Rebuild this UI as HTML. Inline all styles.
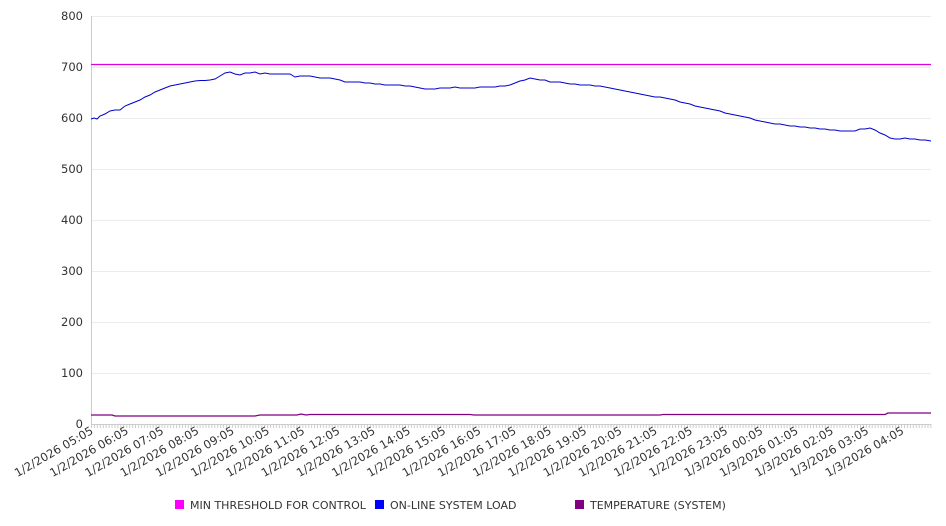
<!DOCTYPE html>
<html><head><meta charset="utf-8"><style>
html,body{margin:0;padding:0;background:#fff;}
svg{display:block;font-family:"DejaVu Sans","Liberation Sans",sans-serif;}
</style></head><body>
<svg width="946" height="526" xmlns="http://www.w3.org/2000/svg">
<defs>
<pattern id="tk" x="91" y="424" width="2.935" height="5" patternUnits="userSpaceOnUse">
<rect x="0" y="0" width="1" height="4" fill="#ccc"/>
</pattern>
</defs>
<g stroke="#ececec" stroke-width="1">
<line x1="91" y1="16.5" x2="931" y2="16.5"/><line x1="91" y1="67.5" x2="931" y2="67.5"/>
<line x1="91" y1="118.5" x2="931" y2="118.5"/><line x1="91" y1="169.5" x2="931" y2="169.5"/>
<line x1="91" y1="220.5" x2="931" y2="220.5"/><line x1="91" y1="271.5" x2="931" y2="271.5"/>
<line x1="91" y1="322.5" x2="931" y2="322.5"/><line x1="91" y1="373.5" x2="931" y2="373.5"/>
</g>
<line x1="91.5" y1="16" x2="91.5" y2="424" stroke="#ccc"/>
<line x1="91" y1="424.5" x2="931" y2="424.5" stroke="#ccc"/>
<rect x="91" y="424" width="841" height="4" fill="url(#tk)"/>
<g font-size="11.5" fill="#333" text-anchor="end">
<text x="83" y="20">800</text><text x="83" y="71">700</text><text x="83" y="122">600</text>
<text x="83" y="173">500</text><text x="83" y="224">400</text><text x="83" y="275">300</text>
<text x="83" y="326">200</text><text x="83" y="377">100</text><text x="83" y="428">0</text>
</g>
<g font-size="11.5" fill="#333" text-anchor="end">
<text transform="translate(94,433) rotate(-30)">1/2/2026 05:05</text>
<text transform="translate(129.25,433) rotate(-30)">1/2/2026 06:05</text>
<text transform="translate(164.5,433) rotate(-30)">1/2/2026 07:05</text>
<text transform="translate(199.75,433) rotate(-30)">1/2/2026 08:05</text>
<text transform="translate(235,433) rotate(-30)">1/2/2026 09:05</text>
<text transform="translate(270.25,433) rotate(-30)">1/2/2026 10:05</text>
<text transform="translate(305.5,433) rotate(-30)">1/2/2026 11:05</text>
<text transform="translate(340.75,433) rotate(-30)">1/2/2026 12:05</text>
<text transform="translate(376,433) rotate(-30)">1/2/2026 13:05</text>
<text transform="translate(411.25,433) rotate(-30)">1/2/2026 14:05</text>
<text transform="translate(446.5,433) rotate(-30)">1/2/2026 15:05</text>
<text transform="translate(481.75,433) rotate(-30)">1/2/2026 16:05</text>
<text transform="translate(517,433) rotate(-30)">1/2/2026 17:05</text>
<text transform="translate(552.25,433) rotate(-30)">1/2/2026 18:05</text>
<text transform="translate(587.5,433) rotate(-30)">1/2/2026 19:05</text>
<text transform="translate(622.75,433) rotate(-30)">1/2/2026 20:05</text>
<text transform="translate(658,433) rotate(-30)">1/2/2026 21:05</text>
<text transform="translate(693.25,433) rotate(-30)">1/2/2026 22:05</text>
<text transform="translate(728.5,433) rotate(-30)">1/2/2026 23:05</text>
<text transform="translate(763.75,433) rotate(-30)">1/3/2026 00:05</text>
<text transform="translate(799,433) rotate(-30)">1/3/2026 01:05</text>
<text transform="translate(834.25,433) rotate(-30)">1/3/2026 02:05</text>
<text transform="translate(869.5,433) rotate(-30)">1/3/2026 03:05</text>
<text transform="translate(904.75,433) rotate(-30)">1/3/2026 04:05</text>
</g>
<line x1="91" y1="64.5" x2="931" y2="64.5" stroke="#e000e0" stroke-width="1.2"/>
<polyline fill="none" stroke="#0000cc" stroke-width="1" points="91,119 94,118 97,119 100,116 105,114 110,111 115,110 120,110 125,106 130,104 135,102 140,100 145,97 150,95 155,92 160,90 165,88 170,86 175,85 180,84 185,83 190,82 195,81 200,80.5 205,80.5 210,80 215,79 220,76 225,73 230,72 235,74 240,75 245,73 250,73 255,72 260,74 265,73 270,74 275,74 280,74 285,74 290,74 295,77 300,76 305,76 310,76 315,77 320,78 325,78 330,78 335,79 340,80 345,82 350,82 355,82 360,82 365,83 370,83 375,84 380,84 385,85 390,85 395,85 400,85 405,86 410,86 415,87 420,88 425,89 430,89 435,89 440,88 445,88 450,88 455,87 460,88 465,88 470,88 475,88 480,87 485,87 490,87 495,87 500,86 505,86 510,85 515,83 520,81 525,80 530,78 535,79 540,80 545,80 550,82 555,82 560,82 565,83 570,84 575,84 580,85 585,85 590,85 595,86 600,86 605,87 610,88 615,89 620,90 625,91 630,92 635,93 640,94 645,95 650,96 655,97 660,97 665,98 670,99 675,100 680,102 685,103 690,104 695,106 700,107 705,108 710,109 715,110 720,111 725,113 730,114 735,115 740,116 745,117 750,118 755,120 760,121 765,122 770,123 775,124 780,124 785,125 790,126 795,126 800,127 805,127 810,128 815,128 820,129 825,129 830,130 835,130 840,131 845,131 850,131 855,131 860,129 865,129 870,128 875,130 880,133 885,135 890,138 895,139 900,139 905,138 910,139 915,139 920,140 925,140 931,141"/>
<polyline fill="none" stroke="#800080" stroke-width="1.3" points="91,415 112,415 115,416 255,416 260,415 297,415 301,414 306,415 310,414.5 470,414.5 474,415 660,415 663,414.5 885,414.5 888,413 931,413"/>
<rect x="175" y="500" width="9" height="9" fill="#ff00ff"/>
<text x="190" y="509" font-size="11" fill="#333">MIN THRESHOLD FOR CONTROL</text>
<rect x="375" y="500" width="9" height="9" fill="#0000ff"/>
<text x="390" y="509" font-size="11" fill="#333">ON-LINE SYSTEM LOAD</text>
<rect x="575" y="500" width="9" height="9" fill="#800080"/>
<text x="590" y="509" font-size="11" fill="#333">TEMPERATURE (SYSTEM)</text>
</svg>
</body></html>
